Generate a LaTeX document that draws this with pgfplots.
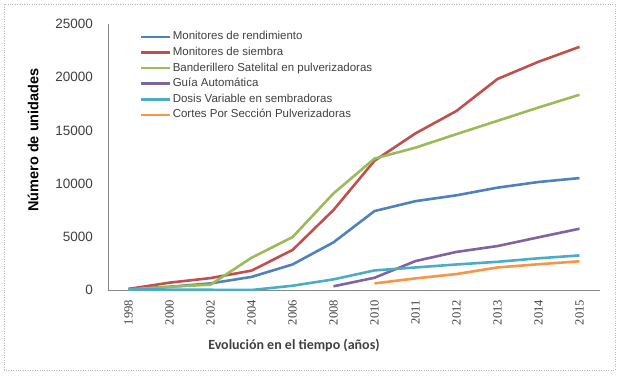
\documentclass[border=0pt]{standalone}
\usepackage{fontspec}
\setmainfont{Liberation Sans}
\newfontfamily\serifnum{Liberation Serif}
\newfontfamily\carl{Carlito}
\usepackage{pgfplots}
\pgfplotsset{compat=1.18}
\definecolor{cBlue}{HTML}{4F81BD}
\definecolor{cRed}{HTML}{C0504D}
\definecolor{cGreen}{HTML}{9BBB59}
\definecolor{cPurple}{HTML}{8064A2}
\definecolor{cCyan}{HTML}{4BACC6}
\definecolor{cOrange}{HTML}{F79646}
\definecolor{axisgray}{HTML}{868686}
\definecolor{tickgray}{HTML}{404040}
\begin{document}
\begin{tikzpicture}[x=1pt,y=1pt]
\useasboundingbox (0,0) rectangle (620,375);
\draw[gray!55, line width=0.6pt, dash pattern=on 0.8pt off 1.6pt] (4,5) rectangle (615,371);
\begin{axis}[
  at={(108pt,85pt)}, anchor=south west,
  scale only axis, width=492pt, height=266pt,
  xmin=-0.5, xmax=11.5, ymin=0, ymax=25000,
  axis x line=bottom, axis y line=left,
  axis line style={-, draw=axisgray, line width=0.8pt},
  xtick={0,...,11},
  xticklabels={1998,2000,2002,2004,2006,2008,2010,2011,2012,2013,2014,2015},
  ytick={0,5000,10000,15000,20000,25000},
  major tick length=0pt,
  scaled y ticks=false,
  /pgf/number format/assume math mode=true,
  /pgf/number format/1000 sep={},
  yticklabel style={font=\fontsize{13.5}{14}\selectfont, text=tickgray, inner sep=0pt, xshift=-15pt},
  xticklabel style={rotate=90, anchor=east, inner sep=0pt, font=\serifnum\fontsize{12.5}{13}\selectfont, text=tickgray},
  xticklabel shift=10pt,
  ylabel={Número de unidades},
  ylabel style={at={(axis description cs:-0.1524,0.564)}, anchor=center, font=\bfseries\fontsize{14.5}{15}\selectfont, text=black},
  xlabel={Evolución en el tiempo (años)},
  xlabel style={at={(axis description cs:0.378,-0.2068)}, anchor=center, font=\carl\bfseries\fontsize{14}{15}\selectfont, text=tickgray},
  legend style={draw=none, fill=none, at={(axis description cs:0.065,0.977)}, anchor=north west,
    inner sep=0pt, font=\fontsize{11.5}{12}\selectfont, text=tickgray,
    nodes={inner sep=1pt, text height=8.5pt, text depth=2.5pt}, row sep=2.6pt},
  legend cell align=left,
  legend image code/.code={\draw[#1] (0pt,0pt) -- (29pt,0pt);},
  every axis plot/.append style={line width=2.6pt, line join=round, no marks},
]
\addplot[cBlue] coordinates {(0,100) (1,300) (2,620) (3,1230) (4,2400) (5,4480) (6,7420) (7,8350) (8,8900) (9,9620) (10,10150) (11,10520)};
\addlegendentry{Monitores de rendimiento}
\addplot[cRed] coordinates {(0,100) (1,690) (2,1120) (3,1820) (4,3760) (5,7520) (6,12150) (7,14720) (8,16830) (9,19830) (10,21450) (11,22850)};
\addlegendentry{Monitores de siembra}
\addplot[cGreen] coordinates {(0,50) (1,300) (2,500) (3,3030) (4,4970) (5,9080) (6,12350) (7,13380) (8,14650) (9,15900) (10,17150) (11,18350)};
\addlegendentry{Banderillero Satelital en pulverizadoras}
\addplot[cPurple] coordinates {(5,350) (6,1150) (7,2720) (8,3580) (9,4130) (10,4950) (11,5760)};
\addlegendentry{Guía Automática}
\addplot[cCyan] coordinates {(0,60) (1,40) (2,20) (3,0) (4,400) (5,1000) (6,1840) (7,2120) (8,2400) (9,2650) (10,2980) (11,3250)};
\addlegendentry{Dosis Variable en sembradoras}
\addplot[cOrange] coordinates {(6,620) (7,1090) (8,1500) (9,2120) (10,2420) (11,2700)};
\addlegendentry{Cortes Por Sección Pulverizadoras}
\end{axis}
\end{tikzpicture}
\end{document}
